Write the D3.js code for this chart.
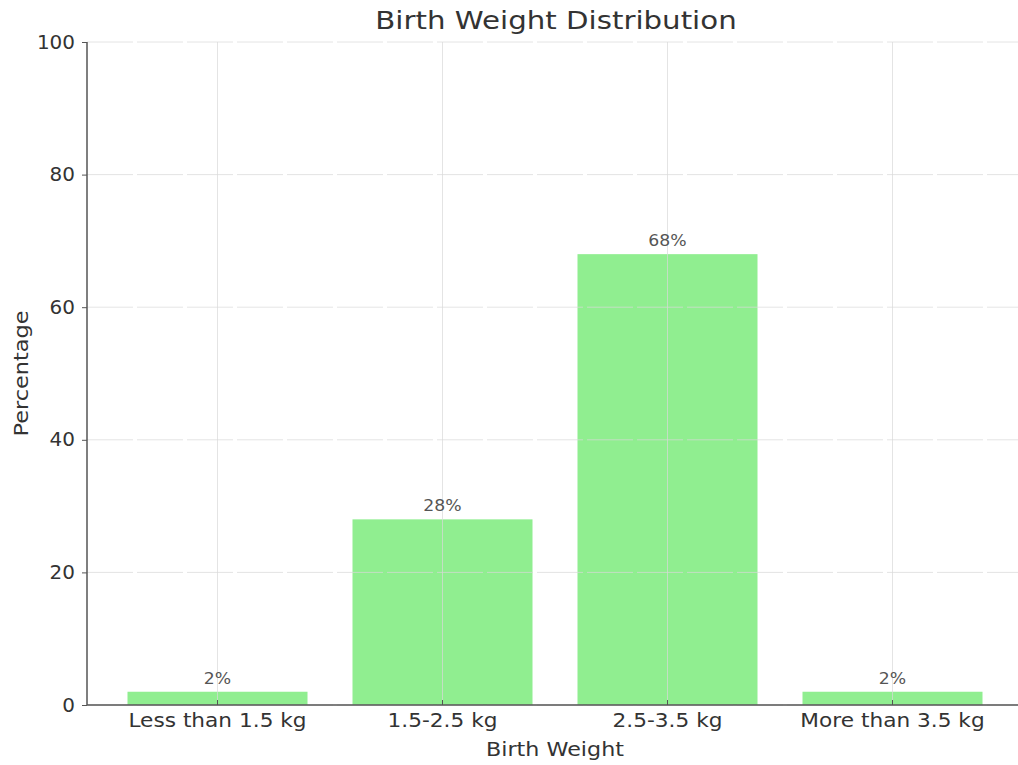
<!DOCTYPE html>
<html><head><meta charset="utf-8">
<script src="https://cdn.jsdelivr.net/npm/d3@7"></script>
<style>body{margin:0;background:#fff;} text{font-family:"DejaVu Sans",sans-serif;}</style>
</head><body>
<svg id="c" width="1018" height="765"></svg>
<script>
const categories = ["Less than 1.5 kg", "1.5-2.5 kg", "2.5-3.5 kg", "More than 3.5 kg"];
const values = [2, 28, 68, 2];
const yTicks = [0, 20, 40, 60, 80, 100];

const svg = d3.select("#c");
const L = 87, R = 1023, T = 42, B = 705;
const x = d3.scaleBand().domain(categories).range([L, R]).paddingInner(0.2).paddingOuter(0.18);
const y = d3.scaleLinear().domain([0, 100]).range([B, T]);
const txt = "#333";

function stretch(sel, f) {
  sel.each(function () {
    const w = this.getComputedTextLength();
    d3.select(this).attr("textLength", w * f).attr("lengthAdjust", "spacingAndGlyphs");
  });
}

// bars
svg.selectAll("rect.bar").data(values).enter().append("rect")
  .attr("x", (d, i) => x(categories[i])).attr("width", x.bandwidth())
  .attr("y", d => y(d)).attr("height", d => y(0) - y(d))
  .attr("fill", "#90EE90");

// grid
const g = svg.append("g");
g.selectAll("line.h").data(yTicks).enter().append("line")
  .attr("x1", L).attr("x2", R).attr("y1", d => y(d)).attr("y2", d => y(d))
  .attr("stroke", "#d8d8d8").attr("stroke-opacity", 0.7).attr("stroke-dasharray", "46,4").attr("stroke-width", 1);
g.selectAll("line.v").data(categories).enter().append("line")
  .attr("x1", d => x(d) + x.bandwidth() / 2).attr("x2", d => x(d) + x.bandwidth() / 2)
  .attr("y1", T).attr("y2", B)
  .attr("stroke", "#d8d8d8").attr("stroke-opacity", 0.7).attr("stroke-width", 1);

// axes
const yAxis = svg.append("g").attr("transform", `translate(${L},0)`)
  .call(d3.axisLeft(y).tickValues(yTicks).tickSize(5).tickPadding(7));
const xAxis = svg.append("g").attr("transform", `translate(0,${B})`)
  .call(d3.axisBottom(x).tickSize(5).tickPadding(4));
[yAxis, xAxis].forEach(a => {
  a.select(".domain").attr("stroke", "#555").attr("stroke-width", 1.5);
  a.selectAll(".tick line").attr("stroke", "#555");
  a.selectAll(".tick text").attr("fill", txt).attr("font-size", 19).attr("font-family", "DejaVu Sans");
});
xAxis.selectAll(".tick line").attr("y1", -5).attr("y2", 0);
yAxis.select(".domain").attr("d", `M0,${B}V${T}`);
xAxis.select(".domain").attr("d", `M${L},0H${R}`);
stretch(xAxis.selectAll(".tick text"), 1.14);
stretch(yAxis.selectAll(".tick text"), 1.05);

// value labels
const vals = svg.selectAll("text.val").data(values).enter().append("text")
  .attr("x", (d, i) => x(categories[i]) + x.bandwidth() / 2).attr("y", d => y(d) - 8)
  .attr("text-anchor", "middle").attr("font-size", 15).attr("fill", "#555")
  .text(d => d + "%");
stretch(vals, 1.15);

// titles
stretch(svg.append("text").attr("x", 556).attr("y", 29).attr("text-anchor", "middle")
  .attr("font-size", 25).attr("fill", txt).text("Birth Weight Distribution"), 1.17);
stretch(svg.append("text").attr("x", 555).attr("y", 756).attr("text-anchor", "middle")
  .attr("font-size", 19).attr("fill", txt).text("Birth Weight"), 1.17);
stretch(svg.append("text").attr("transform", `translate(28,${(T + B) / 2}) rotate(-90)`).attr("text-anchor", "middle")
  .attr("font-size", 19).attr("fill", txt).text("Percentage"), 1.18);
</script>
</body></html>
